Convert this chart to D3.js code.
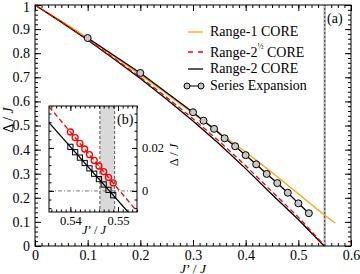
<!DOCTYPE html>
<meta charset="utf-8">
<head>
  <meta charset="utf-8">
  <title>gap vs J'/J</title>
  <script src="https://d3js.org/d3.v7.min.js"></script>
</head>

<style>
body {margin:0; background:#fff;}
text {font-family: "Liberation Serif", "DejaVu Serif", serif; fill:#000;}
.frame {fill:none; stroke:#000; stroke-width:1px;}
.axis line {stroke:#000; stroke-width:1px;}
.main text {font-size:14px;}
.inset text {font-size:12.5px;}
.curve {fill:none; stroke-width:1.3px;}
</style>

<body>
<script>

// ---- data ----
var range1X = [0, 0.05, 0.1, 0.15, 0.2, 0.25, 0.3, 0.35, 0.4, 0.45, 0.5, 0.55, 0.57];
var range1Y = [1, 0.933, 0.863, 0.788, 0.711, 0.632, 0.550, 0.470, 0.390, 0.305, 0.217, 0.128, 0.095];

var rangeHalfX = [0, 0.05, 0.1, 0.15, 0.2, 0.25, 0.3, 0.35, 0.4, 0.45, 0.5, 0.5505];
var rangeHalfY = [1, 0.930, 0.857, 0.780, 0.700, 0.617, 0.528, 0.434, 0.333, 0.226, 0.120, 0];

var range2X = [0, 0.05, 0.1, 0.15, 0.2, 0.25, 0.3, 0.35, 0.4, 0.45, 0.5, 0.549];
var range2Y = [1, 0.929, 0.855, 0.776, 0.695, 0.609, 0.519, 0.423, 0.321, 0.214, 0.110, 0];

var seriesX = [0.1, 0.2, 0.3, 0.32, 0.34, 0.36, 0.38, 0.4, 0.42, 0.44, 0.46, 0.48, 0.5, 0.52];
var seriesY = [0.863, 0.718, 0.555, 0.520, 0.486, 0.447, 0.414, 0.377, 0.339, 0.299, 0.261, 0.221, 0.177, 0.136];

// inset (b)
var insetX = [0.540, 0.541, 0.542, 0.543, 0.544, 0.545, 0.546, 0.547, 0.548, 0.549];
var insetCircleY = [0.0274, 0.0248, 0.0221, 0.0195, 0.0169, 0.0142, 0.0116, 0.0090, 0.0063, 0.0037];
var insetSquareY = [0.0205, 0.0180, 0.0155, 0.0130, 0.0105, 0.0080, 0.0055, 0.0030, 0.0005, -0.0020];
var insetRedLineX = [0.5355, 0.554];
var insetRedLineY = [0.0392, -0.0095];
var insetBlackLineX = [0.5355, 0.554];
var insetBlackLineY = [0.0318, -0.0145];
var bandX = [0.5462, 0.5493];

// tick labels
var xTicks = [0, 0.1, 0.2, 0.3, 0.4, 0.5, 0.6];
var xTickLabels = ["0", "0.1", "0.2", "0.3", "0.4", "0.5", "0.6"];
var yTicks = [0, 0.1, 0.2, 0.3, 0.4, 0.5, 0.6, 0.7, 0.8, 0.9, 1];
var yTickLabels = ["0", "0.1", "0.2", "0.3", "0.4", "0.5", "0.6", "0.7", "0.8", "0.9", "1"];
var insetXTicks = [0.54, 0.55];
var insetXTickLabels = ["0.54", "0.55"];
var insetYTicks = [0, 0.02];
var insetYTickLabels = ["0", "0.02"];

var legendLabels = ["Range-1 CORE", "Range-2", "Range-2 CORE", "Series Expansion"];

// ---- svg ----
var svg = d3.select("body").append("svg")
    .attr("width", 360)
    .attr("height", 274);

var x = d3.scaleLinear().domain([0, 0.6]).range([35, 351]);
var y = d3.scaleLinear().domain([0, 1]).range([246, 5]);

function noDomain(g) { g.select(".domain").remove(); }

var main = svg.append("g").attr("class", "main");

// minor ticks
var xMinor = d3.range(0, 0.6001, 0.0125);
var yMinor = d3.range(0, 1.0001, 0.02);

main.append("g").attr("class", "axis").attr("transform", "translate(0,246)")
    .call(d3.axisBottom(x).tickValues(xMinor).tickSize(-3).tickFormat("")).call(noDomain);
main.append("g").attr("class", "axis").attr("transform", "translate(0,5)")
    .call(d3.axisTop(x).tickValues(xMinor).tickSize(-3).tickFormat("")).call(noDomain);
main.append("g").attr("class", "axis").attr("transform", "translate(35,0)")
    .call(d3.axisLeft(y).tickValues(yMinor).tickSize(-3).tickFormat("")).call(noDomain);
main.append("g").attr("class", "axis").attr("transform", "translate(351,0)")
    .call(d3.axisRight(y).tickValues(yMinor).tickSize(-3).tickFormat("")).call(noDomain);

// major ticks
main.append("g").attr("class", "axis").attr("transform", "translate(0,246)")
    .call(d3.axisBottom(x).tickValues(xTicks).tickSize(-6).tickPadding(4)
      .tickFormat(function(d, i) { return xTickLabels[i]; })).call(noDomain);
main.append("g").attr("class", "axis").attr("transform", "translate(0,5)")
    .call(d3.axisTop(x).tickValues(xTicks).tickSize(-6).tickFormat("")).call(noDomain);
var yAx = main.append("g").attr("class", "axis").attr("transform", "translate(35,0)")
    .call(d3.axisLeft(y).tickValues(yTicks).tickSize(-6).tickPadding(5)
      .tickFormat(function(d, i) { return yTickLabels[i]; })).call(noDomain);
main.append("g").attr("class", "axis").attr("transform", "translate(351,0)")
    .call(d3.axisRight(y).tickValues(yTicks).tickSize(-6).tickFormat("")).call(noDomain);

main.selectAll(".axis text").style("font-size", "14px").style("font-family", "Liberation Serif");
// keep the top "1" inside the picture
yAx.selectAll(".tick text").filter(function(d) { return d === 1; }).attr("y", 2);

// vertical marker at J'/J = 0.55
main.append("line")
    .attr("x1", x(0.55)).attr("x2", x(0.55))
    .attr("y1", y(0)).attr("y2", y(1))
    .attr("stroke", "#bbb").attr("stroke-width", 2.5);
main.append("line")
    .attr("x1", x(0.55)).attr("x2", x(0.55))
    .attr("y1", y(0)).attr("y2", y(1))
    .attr("stroke", "#555").attr("stroke-width", 1.2)
    .attr("stroke-dasharray", "2,2");

var line = d3.line()
    .x(function(d) { return x(d[0]); })
    .y(function(d) { return y(d[1]); });

main.append("path").datum(d3.zip(range1X, range1Y))
    .attr("class", "curve").attr("stroke", "#ffa500").attr("d", line);
main.append("path").datum(d3.zip(range2X, range2Y))
    .attr("class", "curve").attr("stroke", "#000").attr("d", line);
main.append("path").datum(d3.zip(rangeHalfX, rangeHalfY))
    .attr("class", "curve").attr("stroke", "#ff0000").attr("stroke-dasharray", "5,3").attr("d", line);

var series = d3.zip(seriesX, seriesY);
main.append("path").datum(series)
    .attr("class", "curve").attr("stroke", "#000").attr("stroke-width", 1).attr("d", line);
main.selectAll(".se").data(series).enter().append("circle")
    .attr("class", "se")
    .attr("cx", function(d) { return x(d[0]); })
    .attr("cy", function(d) { return y(d[1]); })
    .attr("r", 3.5)
    .attr("fill", "#c8c8c8").attr("stroke", "#000").attr("stroke-width", 1);

main.append("rect").attr("class", "frame")
    .attr("x", 35).attr("y", 5).attr("width", 316).attr("height", 241);

// axis titles
main.append("text")
    .attr("x", 193).attr("y", 272.5)
    .attr("text-anchor", "middle")
    .style("font-size", "13.5px")
    .html("<tspan font-style='italic'>J</tspan>’ / <tspan font-style='italic'>J</tspan>");
main.append("text")
    .attr("transform", "translate(13,120) rotate(-90)")
    .attr("text-anchor", "middle")
    .html("Δ / <tspan font-style='italic'>J</tspan>");

main.append("text").attr("x", 327).attr("y", 23).text("(a)");

// legend
var leg = main.append("g");
var legY = [32, 52, 69, 86];
var legBase = [36, 57, 73, 90];
leg.append("line").attr("x1", 188).attr("x2", 203).attr("y1", legY[0]).attr("y2", legY[0])
    .attr("stroke", "#ffa500").attr("stroke-width", 1.3);
leg.append("line").attr("x1", 188).attr("x2", 204).attr("y1", legY[1]).attr("y2", legY[1])
    .attr("stroke", "#ff0000").attr("stroke-width", 1.3).attr("stroke-dasharray", "5,5");
leg.append("line").attr("x1", 188).attr("x2", 203).attr("y1", legY[2]).attr("y2", legY[2])
    .attr("stroke", "#000").attr("stroke-width", 1.3);
leg.append("line").attr("x1", 187).attr("x2", 201).attr("y1", legY[3]).attr("y2", legY[3])
    .attr("stroke", "#000").attr("stroke-width", 1);
[187, 201].forEach(function(cx) {
  leg.append("circle").attr("cx", cx).attr("cy", legY[3]).attr("r", 3)
    .attr("fill", "#c8c8c8").attr("stroke", "#000").attr("stroke-width", 1);
});
leg.append("text").attr("x", 210).attr("y", legBase[0]).text(legendLabels[0]);
var t2 = leg.append("text").attr("x", 210).attr("y", legBase[1]);
t2.append("tspan").text(legendLabels[1]);
t2.append("tspan").attr("dy", -8).style("font-size", "8px").text("½");
t2.append("tspan").attr("dy", 8).text(" CORE");
leg.append("text").attr("x", 210).attr("y", legBase[2]).text(legendLabels[2]);
leg.append("text").attr("x", 210).attr("y", legBase[3]).text(legendLabels[3]);

// ---- inset (b) ----
var inset = svg.append("g").attr("class", "inset");
var xi = d3.scaleLinear().domain([0.5355, 0.554]).range([49, 137]);
var yi = d3.scaleLinear().domain([-0.0098, 0.0395]).range([212, 106]);

inset.append("rect").attr("x", 49).attr("y", 106).attr("width", 88).attr("height", 106)
    .attr("fill", "#fff");

svg.append("clipPath").attr("id", "clipb")
  .append("rect").attr("x", 49).attr("y", 106).attr("width", 88).attr("height", 106);

var body = inset.append("g").attr("clip-path", "url(#clipb)");

body.append("rect")
    .attr("x", xi(bandX[0])).attr("y", 106)
    .attr("width", xi(bandX[1]) - xi(bandX[0])).attr("height", 106)
    .attr("fill", "#d9d9d9");
bandX.forEach(function(v) {
  body.append("line").attr("x1", xi(v)).attr("x2", xi(v)).attr("y1", 106).attr("y2", 212)
    .attr("stroke", "#555").attr("stroke-width", 1).attr("stroke-dasharray", "3,2");
});
body.append("line").attr("x1", 49).attr("x2", 137).attr("y1", yi(0)).attr("y2", yi(0))
    .attr("stroke", "#777").attr("stroke-width", 1).attr("stroke-dasharray", "4,2,1,2");

var linei = d3.line()
    .x(function(d) { return xi(d[0]); })
    .y(function(d) { return yi(d[1]); });

body.append("path").datum(d3.zip(insetBlackLineX, insetBlackLineY))
    .attr("class", "curve").attr("stroke", "#000").attr("d", linei);
body.append("path").datum(d3.zip(insetRedLineX, insetRedLineY))
    .attr("class", "curve").attr("stroke", "#ff0000").attr("stroke-dasharray", "5,3").attr("d", linei);

body.selectAll(".sq").data(d3.zip(insetX, insetSquareY)).enter().append("rect")
    .attr("class", "sq")
    .attr("x", function(d) { return xi(d[0]) - 2.6; })
    .attr("y", function(d) { return yi(d[1]) - 2.6; })
    .attr("width", 5.2).attr("height", 5.2)
    .attr("fill", "none").attr("stroke", "#000").attr("stroke-width", 1);
body.selectAll(".ci").data(d3.zip(insetX, insetCircleY)).enter().append("circle")
    .attr("class", "ci")
    .attr("cx", function(d) { return xi(d[0]); })
    .attr("cy", function(d) { return yi(d[1]); })
    .attr("r", 3)
    .attr("fill", "none").attr("stroke", "#ff0000").attr("stroke-width", 1.3);

var xiMinor = d3.range(0.536, 0.5541, 0.001);
var yiMinor = d3.range(-0.008, 0.0381, 0.004);

inset.append("g").attr("class", "axis").attr("transform", "translate(0,212)")
    .call(d3.axisBottom(xi).tickValues(xiMinor).tickSize(-2.5).tickFormat("")).call(noDomain);
inset.append("g").attr("class", "axis").attr("transform", "translate(0,106)")
    .call(d3.axisTop(xi).tickValues(xiMinor).tickSize(-2.5).tickFormat("")).call(noDomain);
inset.append("g").attr("class", "axis").attr("transform", "translate(49,0)")
    .call(d3.axisLeft(yi).tickValues(yiMinor).tickSize(-2.5).tickFormat("")).call(noDomain);
inset.append("g").attr("class", "axis").attr("transform", "translate(137,0)")
    .call(d3.axisRight(yi).tickValues(yiMinor).tickSize(-2.5).tickFormat("")).call(noDomain);

inset.append("g").attr("class", "axis").attr("transform", "translate(0,212)")
    .call(d3.axisBottom(xi).tickValues(insetXTicks).tickSize(-5).tickPadding(4)
      .tickFormat(function(d, i) { return insetXTickLabels[i]; })).call(noDomain);
inset.append("g").attr("class", "axis").attr("transform", "translate(0,106)")
    .call(d3.axisTop(xi).tickValues(insetXTicks).tickSize(-5).tickFormat("")).call(noDomain);
inset.append("g").attr("class", "axis").attr("transform", "translate(49,0)")
    .call(d3.axisLeft(yi).tickValues(insetYTicks).tickSize(-5).tickFormat("")).call(noDomain);
inset.append("g").attr("class", "axis").attr("transform", "translate(137,0)")
    .call(d3.axisRight(yi).tickValues(insetYTicks).tickSize(-5).tickPadding(5)
      .tickFormat(function(d, i) { return insetYTickLabels[i]; })).call(noDomain);

inset.selectAll(".axis text").style("font-size", "12.5px").style("font-family", "Liberation Serif");

inset.append("rect").attr("class", "frame")
    .attr("x", 49).attr("y", 106).attr("width", 88).attr("height", 106);

inset.append("text").attr("x", 117).attr("y", 124).style("font-size", "14px").text("(b)");
inset.append("text")
    .attr("x", 94).attr("y", 234)
    .attr("text-anchor", "middle")
    .html("<tspan font-style='italic'>J</tspan>’ / <tspan font-style='italic'>J</tspan>");
inset.append("text")
    .attr("transform", "translate(178,155) rotate(-90)")
    .attr("text-anchor", "middle")
    .html("Δ / <tspan font-style='italic'>J</tspan>");

</script>
</body>
